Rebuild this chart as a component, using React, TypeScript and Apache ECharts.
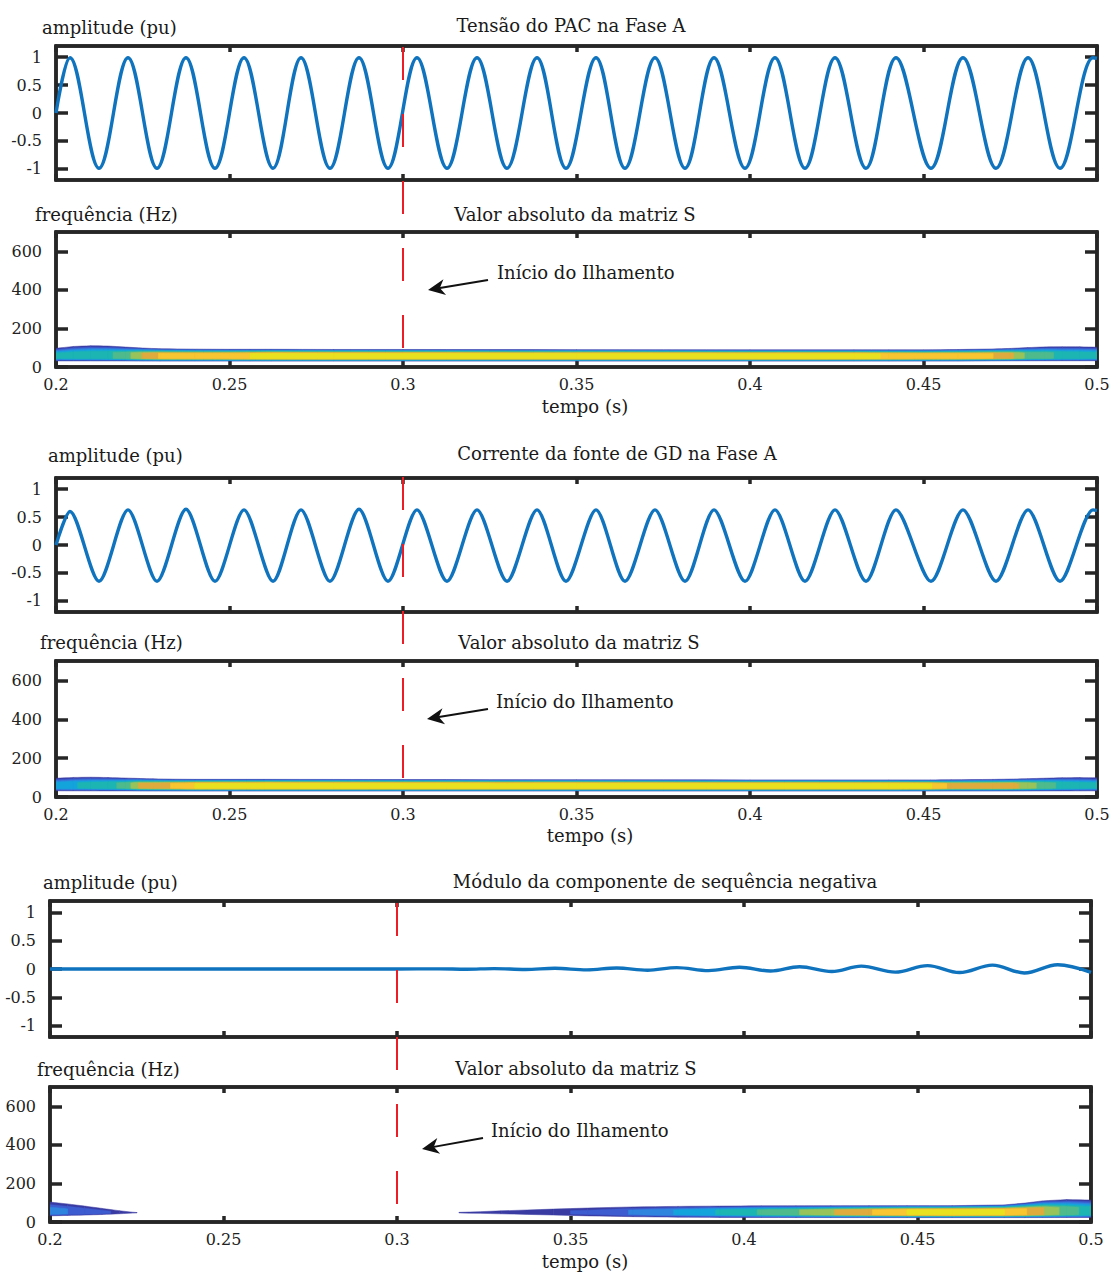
import React, { useEffect, useRef } from 'react';
import * as echarts from 'echarts';

// ---------- ticks ----------
const xTicks = [0.2, 0.25, 0.3, 0.35, 0.4, 0.45, 0.5];
const ampTicks = [-1, -0.5, 0, 0.5, 1];
const freqTicks = [0, 200, 400, 600];
const islandingTime = 0.3;

// ---------- waveform extrema (time s, value pu) ----------
const voltTime = [0.2, 0.20403, 0.21239, 0.22075, 0.22911, 0.23746, 0.24582, 0.25418, 0.26254, 0.27061, 0.27896, 0.28732, 0.29568, 0.30403, 0.31268, 0.32133, 0.32997, 0.33862, 0.34697, 0.35562, 0.36398, 0.37262, 0.38127, 0.38963, 0.39856, 0.4072, 0.41585, 0.4245, 0.43343, 0.44207, 0.45216, 0.46138, 0.47089, 0.48012, 0.48934, 0.49885, 0.5];
const voltValue = [0, 0.99, -0.99, 0.99, -0.99, 0.99, -0.99, 0.99, -0.99, 0.99, -0.99, 0.99, -0.99, 0.99, -0.99, 0.99, -0.99, 0.99, -0.99, 0.99, -0.99, 0.99, -0.99, 0.99, -0.99, 0.99, -0.99, 0.99, -0.99, 0.99, -0.99, 0.99, -0.99, 0.99, -0.99, 0.99, 0.98];

const currTime = [0.2, 0.20403, 0.21239, 0.22075, 0.22911, 0.23746, 0.24582, 0.25418, 0.26254, 0.27061, 0.27896, 0.28732, 0.29568, 0.30403, 0.31268, 0.32133, 0.32997, 0.33862, 0.34697, 0.35562, 0.36398, 0.37262, 0.38127, 0.38963, 0.39856, 0.4072, 0.41585, 0.4245, 0.43343, 0.44207, 0.45216, 0.46138, 0.47089, 0.48012, 0.48934, 0.49885, 0.5];
const currValue = [0, 0.6, -0.65, 0.63, -0.65, 0.64, -0.65, 0.63, -0.65, 0.63, -0.65, 0.64, -0.65, 0.63, -0.65, 0.63, -0.65, 0.63, -0.65, 0.63, -0.65, 0.63, -0.65, 0.63, -0.65, 0.63, -0.65, 0.63, -0.65, 0.63, -0.65, 0.63, -0.65, 0.63, -0.65, 0.63, 0.62];

const negTime = [0.2, 0.3, 0.312, 0.32, 0.328, 0.337, 0.3455, 0.3547, 0.3633, 0.3722, 0.3806, 0.3898, 0.3987, 0.4076, 0.416, 0.4253, 0.4338, 0.4436, 0.4529, 0.4621, 0.4716, 0.4808, 0.4904, 0.5];
const negValue = [0, 0, 0.003, -0.004, 0.007, -0.009, 0.012, -0.015, 0.018, -0.021, 0.025, -0.028, 0.032, -0.036, 0.04, -0.045, 0.05, -0.055, 0.06, -0.063, 0.068, -0.07, 0.075, -0.06];

// ---------- |S| band ----------
// time (s), peak level (0..1 of colour scale), lower / upper edge of the band (Hz)
const spec1Time = [0.2, 0.205, 0.21, 0.215, 0.22, 0.225, 0.23, 0.24, 0.25, 0.256, 0.262, 0.28, 0.3, 0.35, 0.4, 0.43, 0.44, 0.45, 0.46, 0.47, 0.475, 0.48, 0.485, 0.49, 0.495, 0.5];
const spec1Peak = [0.46, 0.48, 0.5, 0.53, 0.6, 0.76, 0.86, 0.88, 0.9, 0.95, 0.98, 0.99, 0.99, 0.99, 0.99, 0.98, 0.94, 0.9, 0.88, 0.85, 0.78, 0.62, 0.58, 0.52, 0.5, 0.48];
const spec1Low = [30, 30, 30, 30, 30, 30, 30, 30, 30, 30, 30, 30, 30, 30, 30, 30, 30, 30, 30, 31, 31, 31, 31, 31, 31, 31];
const spec1High = [100, 110, 114, 112, 106, 100, 96, 94, 93, 93, 93, 92, 92, 91, 90, 90, 90, 90, 92, 95, 98, 103, 107, 108, 108, 106];
const spec1Center = 54;

const spec2Time = [0.2, 0.205, 0.21, 0.215, 0.22, 0.224, 0.228, 0.234, 0.24, 0.26, 0.3, 0.35, 0.4, 0.44, 0.452, 0.458, 0.47, 0.476, 0.48, 0.485, 0.49, 0.495, 0.5];
const spec2Peak = [0.4, 0.44, 0.48, 0.52, 0.58, 0.76, 0.8, 0.86, 0.95, 0.98, 0.99, 0.99, 0.99, 0.98, 0.96, 0.82, 0.8, 0.78, 0.7, 0.6, 0.52, 0.48, 0.45];
const spec2Low = [30, 30, 30, 30, 30, 30, 30, 30, 30, 30, 30, 30, 30, 30, 30, 30, 30, 30, 30, 30, 30, 30, 30];
const spec2High = [100, 104, 105, 103, 100, 97, 95, 93, 92, 92, 91, 90, 89, 89, 89, 90, 92, 94, 96, 99, 102, 103, 102];
const spec2Center = 55;

const spec3Time = [0.2, 0.205, 0.21, 0.215, 0.22, 0.225, 0.2255, 0.317, 0.318, 0.33, 0.345, 0.355, 0.368, 0.381, 0.393, 0.405, 0.415, 0.425, 0.436, 0.447, 0.46, 0.475, 0.481, 0.486, 0.493, 0.5];
const spec3Peak = [0.28, 0.25, 0.22, 0.18, 0.12, 0.06, 0, 0, 0.06, 0.1, 0.14, 0.16, 0.26, 0.36, 0.46, 0.56, 0.64, 0.74, 0.84, 0.95, 0.98, 0.95, 0.86, 0.76, 0.6, 0.5];
const spec3Low = [30, 32, 34, 37, 41, 46, 48, 48, 46, 40, 33, 28, 25, 23, 22, 22, 22, 22, 22, 22, 22, 22, 22, 22, 22, 22];
const spec3High = [110, 100, 88, 75, 62, 50, 48, 48, 52, 62, 72, 78, 82, 84, 85, 86, 86, 86, 86, 86, 86, 90, 100, 112, 120, 118];
const spec3Center = 48;

// colour levels (parula-like)
const levelThresholds = [0.05, 0.15, 0.25, 0.35, 0.45, 0.55, 0.65, 0.75, 0.85, 0.95];
const levelColors = ['#3a3aa3', '#3d5ccf', '#2f84de', '#14a4dc', '#1db5b2', '#4fbb8d', '#98c35a', '#dfab3d', '#f8c630', '#e8e11f'];
const SHOULDER = 0.6;

const FONT = '"DejaVu Serif", serif';
const AX = '#262626';
const BLUE = '#0f73be';

const grids = [
  { left: 56, top: 46, height: 134 },
  { left: 56, top: 232, height: 135 },
  { left: 56, top: 478, height: 134 },
  { left: 56, top: 661, height: 136 },
  { left: 50, top: 901, height: 136 },
  { left: 50, top: 1087, height: 135 },
];
const GRID_W = 1041;

function zip(t: number[], v: number[]) {
  return t.map((x, i) => [x, v[i]]);
}

function makeAxes(gi: number, isSpec: boolean) {
  const yTicks = isSpec ? freqTicks : ampTicks;
  const yMin = isSpec ? 0 : -1.2;
  const yMax = isSpec ? 700 : 1.2;
  const line = { show: true, onZero: false, lineStyle: { color: AX, width: 3.5 } };
  const xBase = (pos: string, labels: boolean) => ({
    type: 'value', gridIndex: gi, min: 0.2, max: 0.5, position: pos,
    axisLine: line,
    axisTick: { show: true, inside: true, length: 6, customValues: xTicks, lineStyle: { color: AX, width: 3.5 } },
    axisLabel: { show: labels, customValues: xTicks, fontFamily: FONT, fontSize: 16, color: '#222', margin: 9, formatter: (v: number) => String(v) },
    splitLine: { show: false },
  });
  const yBase = (pos: string, labels: boolean) => ({
    type: 'value', gridIndex: gi, min: yMin, max: yMax, position: pos,
    axisLine: line,
    axisTick: { show: true, inside: true, length: 12, customValues: yTicks, lineStyle: { color: AX, width: 3.5 } },
    axisLabel: { show: labels, customValues: yTicks, fontFamily: FONT, fontSize: 16, color: '#222', margin: 14, formatter: (v: number) => String(v) },
    splitLine: { show: false },
  });
  return {
    x: [xBase('bottom', isSpec), xBase('top', false)],
    y: [yBase('left', true), yBase('right', false)],
  };
}

// one custom item draws every colour level of the band, lowest level first
function specSeries(axisIdx: number, T: number[], P: number[], LO: number[], HI: number[], C: number) {
  return {
    type: 'custom',
    xAxisIndex: axisIdx,
    yAxisIndex: axisIdx,
    clip: true,
    z: 2,
    data: [[T[0], T[T.length - 1]]],
    renderItem: (_params: any, api: any) => {
      const children: any[] = [];
      for (let k = 0; k < levelThresholds.length; k++) {
        const th = levelThresholds[k];
        for (let i = 0; i < T.length - 1; i++) {
          const p0 = P[i], p1 = P[i + 1];
          if (p0 < th && p1 < th) continue;
          let a = 0, b = 1;
          if (p0 < th) a = (th - p0) / (p1 - p0);
          if (p1 < th) b = (th - p0) / (p1 - p0);
          const N = 4;
          const top: number[][] = [];
          const bot: number[][] = [];
          for (let j = 0; j <= N; j++) {
            const u = a + ((b - a) * j) / N;
            const t = T[i] + (T[i + 1] - T[i]) * u;
            const p = Math.max(p0 + (p1 - p0) * u, th);
            const lo = LO[i] + (LO[i + 1] - LO[i]) * u;
            const hi = HI[i] + (HI[i + 1] - HI[i]) * u;
            const r = Math.min(1, (SHOULDER * th) / p);
            top.push(api.coord([t, hi - (hi - C) * r]));
            bot.push(api.coord([t, lo + (C - lo) * r]));
          }
          children.push({
            type: 'polygon',
            shape: { points: top.concat(bot.reverse()) },
            style: { fill: levelColors[k], stroke: levelColors[k], lineWidth: 0.5 },
          });
        }
      }
      return { type: 'group', children };
    },
  };
}

function lineSeries(axisIdx: number, T: number[], V: number[], smooth: number) {
  return {
    type: 'line',
    xAxisIndex: axisIdx,
    yAxisIndex: axisIdx,
    data: zip(T, V),
    smooth,
    showSymbol: false,
    clip: false,
    z: 3,
    lineStyle: { color: BLUE, width: 3.4 },
  };
}

function buildOption() {
  const xAxis: any[] = [];
  const yAxis: any[] = [];
  grids.forEach((g, gi) => {
    const a = makeAxes(gi, gi % 2 === 1);
    xAxis.push(...a.x);
    yAxis.push(...a.y);
  });
  const series = [
    lineSeries(0, voltTime, voltValue, 0.36),
    specSeries(2, spec1Time, spec1Peak, spec1Low, spec1High, spec1Center),
    lineSeries(4, currTime, currValue, 0.28),
    specSeries(6, spec2Time, spec2Peak, spec2Low, spec2High, spec2Center),
    lineSeries(8, negTime, negValue, 0.36),
    specSeries(10, spec3Time, spec3Peak, spec3Low, spec3High, spec3Center),
  ];
  return {
    animation: false,
    backgroundColor: '#ffffff',
    grid: grids.map((g) => ({
      left: g.left, top: g.top, width: GRID_W, height: g.height,
      show: true, borderColor: AX, borderWidth: 3.5, backgroundColor: 'transparent',
    })),
    xAxis,
    yAxis,
    series,
  };
}

function txt(x: number, y: number, text: string, align: string = 'left', size = 18) {
  return {
    type: 'text', x, y, z: 50,
    style: { text, fill: '#1a1a1a', font: `${size}px ${FONT}`, textAlign: align, textVerticalAlign: 'middle' },
  };
}

function arrow(tx: number, ty: number, hx: number, hy: number) {
  const dx = tx - hx, dy = ty - hy;
  const L = Math.hypot(dx, dy);
  const ux = dx / L, uy = dy / L;
  const px = -uy, py = ux;
  const back = 17, notch = 12, half = 8;
  const w1 = [hx + ux * back + px * half, hy + uy * back + py * half];
  const w2 = [hx + ux * back - px * half, hy + uy * back - py * half];
  const nb = [hx + ux * notch, hy + uy * notch];
  return [
    { type: 'line', z: 50, shape: { x1: tx, y1: ty, x2: nb[0], y2: nb[1] }, style: { stroke: '#111', lineWidth: 2 } },
    { type: 'polygon', z: 50, shape: { points: [[hx, hy], w1, nb, w2] }, style: { fill: '#111' } },
  ];
}

export default function App() {
  const ref = useRef<HTMLDivElement>(null);
  useEffect(() => {
    if (!ref.current) return;
    const chart = echarts.init(ref.current, null, { renderer: 'svg' });
    chart.setOption(buildOption() as any);

    const xA = (chart.convertToPixel({ gridIndex: 0 } as any, [islandingTime, 0]) as number[])[0];
    const xB = (chart.convertToPixel({ gridIndex: 2 } as any, [islandingTime, 0]) as number[])[0];
    const xC = (chart.convertToPixel({ gridIndex: 4 } as any, [islandingTime, 0]) as number[])[0];
    const dash = (x: number, y1: number, y2: number) => ({
      type: 'line', z: 40,
      shape: { x1: x, y1, x2: x, y2 },
      style: { stroke: '#ee1c25', lineWidth: 2, lineDash: [33, 34] },
    });

    const graphic: any[] = [
      txt(42, 27, 'amplitude (pu)'),
      txt(571, 25, 'Tensão do PAC na Fase A', 'center'),
      txt(35, 214, 'frequência (Hz)'),
      txt(575, 214, 'Valor absoluto da matriz S', 'center'),
      txt(585, 406, 'tempo (s)', 'center'),
      txt(497, 272, 'Início do Ilhamento'),
      ...arrow(488, 280, 428, 290),

      txt(48, 455, 'amplitude (pu)'),
      txt(617, 453, 'Corrente da fonte de GD na Fase A', 'center'),
      txt(40, 642, 'frequência (Hz)'),
      txt(579, 642, 'Valor absoluto da matriz S', 'center'),
      txt(590, 835, 'tempo (s)', 'center'),
      txt(496, 701, 'Início do Ilhamento'),
      ...arrow(488, 709, 427, 719),

      txt(43, 882, 'amplitude (pu)'),
      txt(665, 881, 'Módulo da componente de sequência negativa', 'center'),
      txt(37, 1069, 'frequência (Hz)'),
      txt(576, 1068, 'Valor absoluto da matriz S', 'center'),
      txt(585, 1261, 'tempo (s)', 'center'),
      txt(491, 1130, 'Início do Ilhamento'),
      ...arrow(483, 1138, 422, 1149),

      dash(xA, 47, 351),
      dash(xB, 477, 781),
      dash(xC, 903, 1210),
    ];
    chart.setOption({ graphic } as any);
    return () => chart.dispose();
  }, []);
  return (
    <div
      ref={ref}
      style={{ position: 'absolute', left: 0, top: 0, width: 1118, height: 1273, background: '#fff' }}
    />
  );
}
